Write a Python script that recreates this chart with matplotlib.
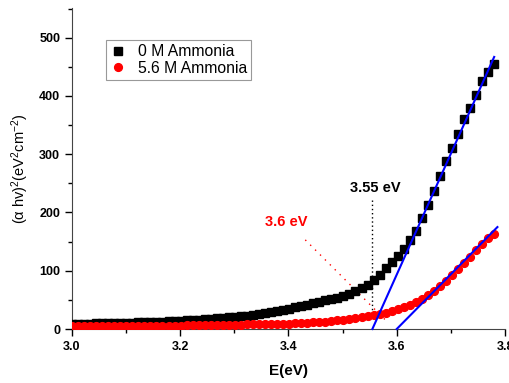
import numpy as np
import matplotlib
matplotlib.use("Agg")
import matplotlib.pyplot as plt
from matplotlib.ticker import MultipleLocator

plt.rcParams['font.family'] = ['Liberation Sans', 'DejaVu Sans']
plt.rcParams['mathtext.fontset'] = 'custom'
plt.rcParams['mathtext.rm'] = 'Liberation Sans'
plt.rcParams['mathtext.it'] = 'Liberation Sans:italic'

# photon energy (eV)
energy = np.round(np.linspace(3.0, 3.78, 71), 4)

# (alpha h nu)^2 for 0 M ammonia
black_vals = [9.0, 9.1, 9.2, 9.4, 9.6, 9.8, 10.0, 10.2, 10.4, 10.7,
              11.0, 11.3, 11.6, 12.0, 12.4, 12.8, 13.2, 13.7, 14.2, 14.7,
              15.3, 15.9, 16.6, 17.3, 18.1, 19.0, 20.0, 21.0, 22.0, 23.0,
              24.0, 25.5, 27.0, 29.0, 31.0, 33.0, 35.0, 37.0, 39.0, 41.5,
              44.0, 46.5, 49.0, 51.5, 53.5, 56.0, 60.0, 65.0, 70.0, 76.0,
              84.0, 93.0, 104.0, 115.0, 125.0, 137.0, 152.0, 169.0, 190.0, 212.0,
              237.0, 263.0, 289.0, 311.0, 334.0, 360.0, 380.0, 402.0, 426.0, 441.0,
              455.0]

# (alpha h nu)^2 for 5.6 M ammonia
red_vals = [4.5, 4.5, 4.6, 4.6, 4.7, 4.7, 4.8, 4.9, 5.0, 5.1,
            5.2, 5.3, 5.4, 5.5, 5.6, 5.7, 5.8, 5.9, 6.0, 6.1,
            6.3, 6.4, 6.6, 6.7, 6.9, 7.0, 7.2, 7.4, 7.6, 7.8,
            8.0, 8.2, 8.4, 8.6, 8.8, 9.1, 9.4, 9.8, 10.2, 10.7,
            11.3, 12.0, 12.8, 13.7, 14.8, 16.0, 17.3, 18.7, 20.2, 21.9,
            23.7, 25.6, 27.8, 30.5, 33.5, 37.0, 41.0, 46.0, 51.0, 58.0,
            66.0, 74.0, 83.0, 92.0, 103.0, 113.0, 124.0, 135.0, 146.0, 156.0,
            163.0]

# linear fits (Tauc extrapolation)
fit_black_x = [3.555, 3.78]
fit_black_y = [0, 467]
fit_red_x = [3.60, 3.786]
fit_red_y = [0, 175]

fig = plt.figure(figsize=(5.1, 3.83), dpi=100)
ax = fig.add_axes([72/510, 54/383, 433/510, 321/383])

ax.plot(energy, black_vals, 's', color='black', markersize=5.2, label='0 M Ammonia', zorder=3)
ax.plot(energy, red_vals, 'o', color='red', markersize=5.6, label='5.6 M Ammonia', zorder=3)
ax.plot(fit_black_x, fit_black_y, color='blue', lw=1.5, zorder=4, clip_on=False)
ax.plot(fit_red_x, fit_red_y, color='blue', lw=1.5, zorder=4, clip_on=False)

# band gap markers
ax.plot([3.555, 3.555], [222, 28], color='black', lw=1, linestyle=(0, (1, 2)))
ax.plot([3.431, 3.585], [153, 10], color='red', lw=1, linestyle=(0, (1, 4)))
ax.text(3.561, 242, '3.55 eV', color='black', fontsize=10.5, fontweight='bold',
        ha='center', va='center')
ax.text(3.395, 184, '3.6 eV', color='red', fontsize=10.5, fontweight='bold',
        ha='center', va='center')

ax.set_xlim(3.0, 3.8)
ax.set_ylim(0, 551)
ax.xaxis.set_minor_locator(MultipleLocator(0.1))
ax.yaxis.set_major_locator(MultipleLocator(100))
ax.yaxis.set_minor_locator(MultipleLocator(50))
ax.set_xticks([3.0, 3.2, 3.4, 3.6, 3.8])
ax.set_xticklabels(['3.0', '3.2', '3.4', '3.6', '3.8'])
ax.tick_params(which='major', direction='out', length=5, width=1, labelsize=9)
ax.tick_params(which='minor', direction='out', length=3, width=1)
for lab in ax.get_xticklabels() + ax.get_yticklabels():
    lab.set_fontweight('bold')

for s in ['top', 'right']:
    ax.spines[s].set_visible(False)
ax.spines['left'].set_color('#444444')
ax.spines['bottom'].set_color('#444444')

ax.set_xlabel('E(eV)', fontsize=11, fontweight='bold', labelpad=8)
ax.set_ylabel('(α hv)$^2$(eV$^2$cm$^{-2}$)', fontsize=10.5, labelpad=6)

leg = ax.legend(loc='upper left', bbox_to_anchor=(0.078, 0.90), borderaxespad=0,
                fancybox=False, edgecolor='#999999', fontsize=11.3,
                handlelength=1.0, handletextpad=0.8, borderpad=0.25,
                labelspacing=0.1, framealpha=1)
leg.get_frame().set_linewidth(0.8)

fig.savefig('out.png', dpi=100)
